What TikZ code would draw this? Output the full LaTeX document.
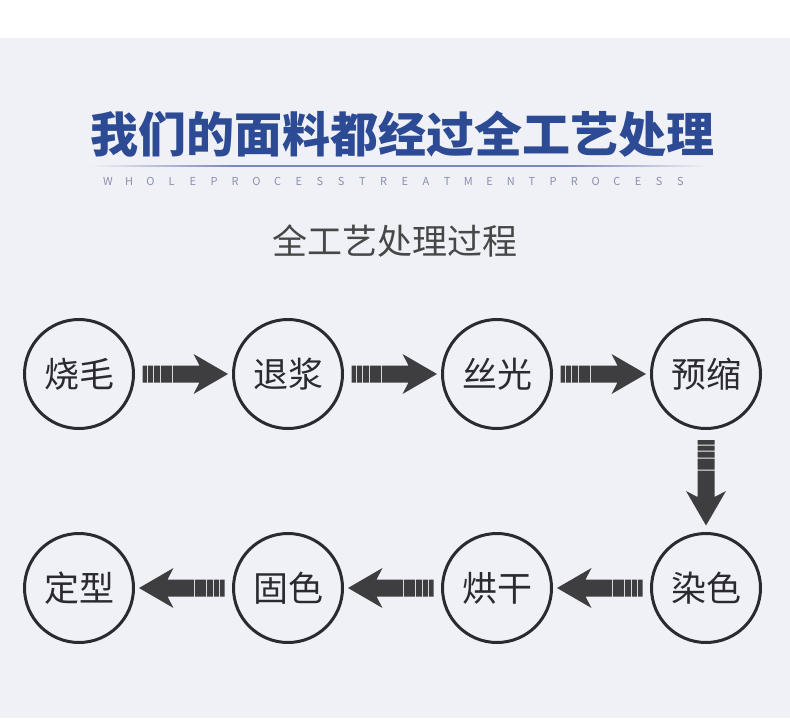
\documentclass[tikz,border=0pt]{standalone}
\usepackage{fontspec}
\newfontfamily\cjk{Noto Sans CJK SC}
\usepackage{tikz}
\usetikzlibrary{positioning,calc}
\definecolor{bgGrey}{HTML}{F0F1F6}
\definecolor{ttBlue}{HTML}{2C4B94}
\definecolor{lnBlue}{HTML}{7E88B8}
\definecolor{enGrey}{HTML}{8A90AE}
\definecolor{txDark}{HTML}{2A2A30}
\definecolor{arGrey}{HTML}{3E3E40}

% striped block arrow between two anchors, turned by #3
\newcommand{\flowarrow}[3]{%
  \begin{scope}[shift={($(#1)!0.5!(#2)$)},rotate=#3]
    \fill[arGrey] (-41,-8.5) rectangle (-36.5,8.5) (-35.5,-8.5) rectangle (-30.5,8.5)
                  (-29.5,-8.5) rectangle (-23.5,8.5) (-22.5,-8.5) rectangle (-11.5,8.5);
    \fill[arGrey] (-10.5,-8.5) -- (16,-8.5) -- (10,-20) -- (44.5,0) -- (10,20)
                  -- (16,8.5) -- (-10.5,8.5) -- cycle;
  \end{scope}}

\begin{document}
\begin{tikzpicture}[x=1pt,y=-1pt,
  ring/.style={circle,draw=txDark,line width=3,minimum size=109,inner sep=0,
               text=txDark,font=\cjk\fontsize{35}{35}\selectfont},
  hd/.style={inner sep=0,font=\cjk\bfseries\fontsize{48}{48}\selectfont,text=ttBlue},
  en/.style={inner sep=0,font=\cjk\fontsize{11}{11}\selectfont,text=enGrey}]
\useasboundingbox (0,0) rectangle (790,718);
\fill[white] (0,0) rectangle (790,38);
\fill[bgGrey] (0,38) rectangle (790,718);

% heading
\node[hd] (title) at (402,134) {我们的面料都经过全工艺处理};
\shade[left color=bgGrey,right color=lnBlue] (90,165.4) rectangle (230,166.6);
\fill[lnBlue] (230,165.4) rectangle (570,166.6);
\shade[left color=lnBlue,right color=bgGrey] (570,165.4) rectangle (708,166.6);
\foreach \c [count=\i from 0] in {W,H,O,L,E,P,R,O,C,E,S,S,T,R,E,A,T,M,E,N,T,P,R,O,C,E,S,S}
  \node[en] at (108+\i*21.2,181) {\c};
\node[inner sep=0,text=black!72,font=\cjk\fontsize{35}{35}\selectfont] (sub) at (395,241) {全工艺处理过程};

% steps
\node[ring] (singe) at (79,374) {烧毛};
\node[ring] (desize) at (288,374) {退浆};
\node[ring] (merc) at (497,374) {丝光};
\node[ring] (shrink) at (706,374) {预缩};
\node[ring] (dye) at (706,588) {染色};
\node[ring] (dry) at (497,588) {烘干};
\node[ring] (fix) at (288,588) {固色};
\node[ring] (set) at (79,588) {定型};

\flowarrow{singe.east}{desize.west}{0}
\flowarrow{desize.east}{merc.west}{0}
\flowarrow{merc.east}{shrink.west}{0}
\flowarrow{shrink.south}{dye.north}{-90}
\flowarrow{dye.west}{dry.east}{180}
\flowarrow{dry.west}{fix.east}{180}
\flowarrow{fix.west}{set.east}{180}
\end{tikzpicture}
\end{document}
